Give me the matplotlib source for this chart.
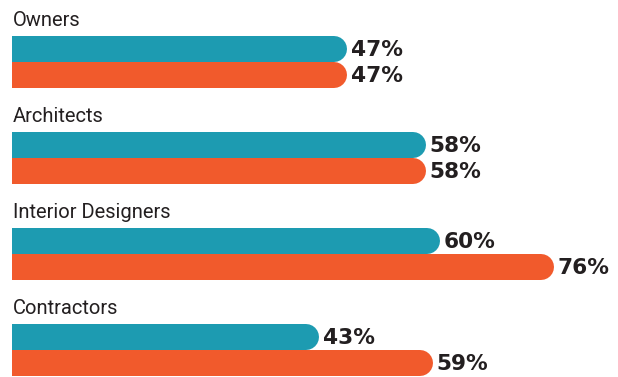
import matplotlib.pyplot as plt

# Data
categories = ["Owners", "Architects", "Interior Designers", "Contractors"]
teal_vals = [47, 58, 60, 43]
orange_vals = [47, 58, 76, 59]

teal = "#1d9bb1"
orange = "#f15a2c"
text_col = "#231f20"

W, H, DPI = 618, 377, 100
fig = plt.figure(figsize=(W / DPI, H / DPI), dpi=DPI)
left_px = 12
ax = fig.add_axes([left_px / W, 0, 1 - left_px / W, 1])
xmax = 85.0
ax.set_xlim(0, xmax)
ax.set_ylim(H, 0)  # y in pixels from top
ax.axis("off")

px_per_unit = (W - left_px) / xmax
bar_h = 26            # bar thickness in px
r = bar_h / 2 / px_per_unit  # cap radius in data units
lw = bar_h * 72 / DPI

group_top = 36
group_step = 96

def rounded_bar(y, v, color):
    # thick line with a round cap; left cap is clipped by the axes edge
    ax.plot([-5, v - r], [y, y], color=color, lw=lw,
            solid_capstyle="round", clip_on=True)
    ax.text(v + 4 / px_per_unit, y + 1.5, f"{v}%", ha="left", va="center",
            fontsize=15.6, fontweight="bold", color=text_col,
            family="DejaVu Sans")

for i, cat in enumerate(categories):
    top = group_top + i * group_step
    ax.text(0.1, top - 10, cat, ha="left", va="baseline", fontsize=14.5,
            color=text_col, family=["Roboto", "DejaVu Sans"],
            clip_on=False)
    rounded_bar(top + bar_h / 2, teal_vals[i], teal)
    rounded_bar(top + bar_h * 1.5, orange_vals[i], orange)

fig.savefig("out.png", dpi=DPI)
